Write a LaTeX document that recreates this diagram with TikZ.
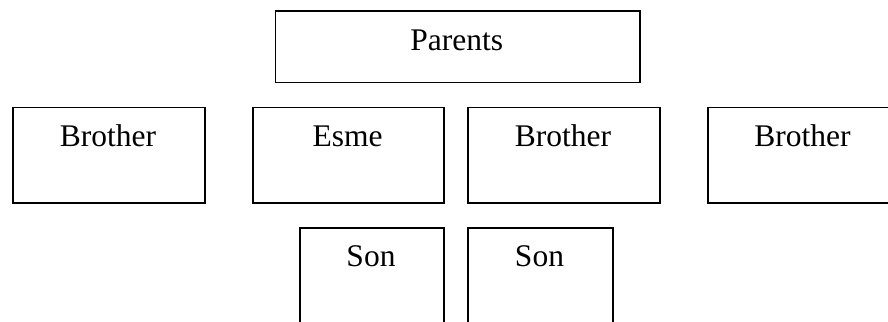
\documentclass[tikz,border=0pt]{standalone}
\usepackage{fontspec}
\setmainfont{Liberation Serif}
\begin{document}
\begin{tikzpicture}[x=1pt,y=-1pt,
  box/.style={draw=black,line width=1.6pt,rectangle,inner sep=0pt,anchor=north west},
  lbl/.style={anchor=base,inner sep=0pt,font=\fontsize{31.5}{36}\selectfont}]
\useasboundingbox (0,0) rectangle (888,321);
\clip (0,0) rectangle (888,321);
% boxes
\node[box,minimum width=364.5pt,minimum height=71pt] (parents) at (274.5,10.5) {};
\node[box,minimum width=192pt,minimum height=95.5pt] (b1) at (12,106.5) {};
\node[box,minimum width=191pt,minimum height=95.5pt] (esme) at (252,106.5) {};
\node[box,minimum width=192pt,minimum height=95.5pt] (b2) at (467,106.5) {};
\node[box,minimum width=191pt,minimum height=95.5pt] (b3) at (707,106.5) {};
\node[box,minimum width=144pt,minimum height=104pt] (s1) at (299,227) {};
\node[box,minimum width=145pt,minimum height=104pt] (s2) at (467,227) {};
% labels
\node[lbl] (tparents) at (456.75,51) {Parents};
\node[lbl] (tb1) at (108,146.7) {Brother};
\node[lbl] (tesme) at (347.5,146.7) {Esme};
\node[lbl] (tb2) at (563,146.7) {Brother};
\node[lbl] (tb3) at (802.5,146.7) {Brother};
\node[lbl] (ts1) at (371,266.7) {Son};
\node[lbl] (ts2) at (539.5,266.7) {Son};
\end{tikzpicture}
\end{document}
